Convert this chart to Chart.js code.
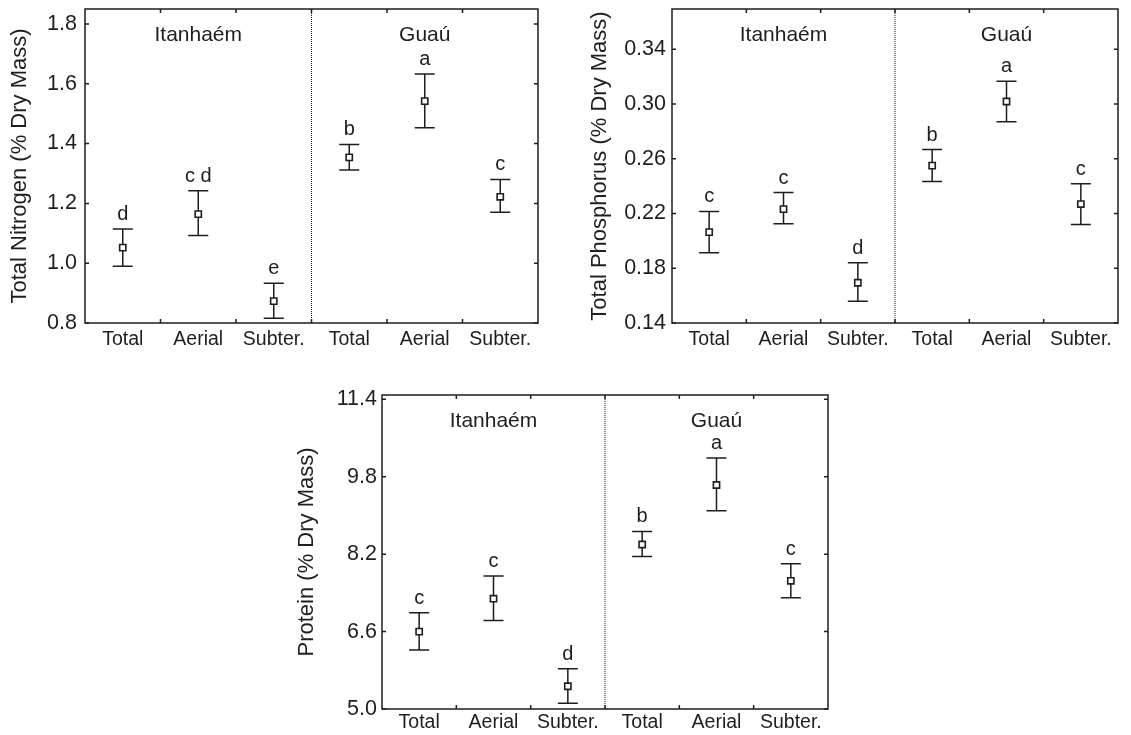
<!DOCTYPE html>
<html>
<head>
<meta charset="utf-8">
<script src="https://cdn.jsdelivr.net/npm/chart.js@4.4.0/dist/chart.umd.min.js"></script>
<style>
  body { margin: 0; background: #fff; width: 1131px; height: 735px; position: relative; overflow: hidden; }
  .box { position: absolute; }
</style>
</head>
<body>
<div class="box" style="left:0;top:0;width:560px;height:360px"><canvas id="cN"></canvas></div>
<div class="box" style="left:580px;top:0;width:551px;height:360px"><canvas id="cP"></canvas></div>
<div class="box" style="left:280px;top:370px;width:570px;height:365px"><canvas id="cProt"></canvas></div>
<script>
const categories = ["Total", "Aerial", "Subter.", "Total", "Aerial", "Subter."];
const groups = ["Itanhaém", "Guaú"];

const nitrogenMean = [1.052, 1.164, 0.873, 1.354, 1.542, 1.222];
const nitrogenLow = [0.990, 1.093, 0.816, 1.312, 1.453, 1.170];
const nitrogenHigh = [1.114, 1.242, 0.933, 1.397, 1.633, 1.280];
const nitrogenLetters = ["d", "c d", "e", "b", "a", "c"];
const nitrogenTicks = [0.8, 1.0, 1.2, 1.4, 1.6, 1.8];

const phosMean = [0.2064, 0.2232, 0.1694, 0.2550, 0.3018, 0.2269];
const phosLow = [0.1913, 0.2125, 0.1558, 0.2434, 0.2870, 0.2120];
const phosHigh = [0.2215, 0.2353, 0.1840, 0.2667, 0.3166, 0.2417];
const phosLetters = ["c", "c", "d", "b", "a", "c"];
const phosTicks = [0.14, 0.18, 0.22, 0.26, 0.30, 0.34];

const protMean = [6.60, 7.28, 5.47, 8.40, 9.63, 7.65];
const protLow = [6.22, 6.83, 5.12, 8.15, 9.10, 7.30];
const protHigh = [6.99, 7.75, 5.83, 8.67, 10.19, 8.00];
const protLetters = ["c", "c", "d", "b", "a", "c"];
const protTicks = [5.0, 6.6, 8.2, 9.8, 11.4];

const ink = "#1e1e1e";
const fontFamily = "'Liberation Sans', Arial, sans-serif";

// error bars, frame, inward ticks, separator, letters and group names
const framePlugin = {
  id: "frame",
  beforeDatasetsDraw(chart) {
    const { ctx, scales: { x, y } } = chart;
    const o = chart.options.plugins.frame;
    ctx.save();
    ctx.strokeStyle = ink;
    ctx.lineWidth = 1.5;
    o.low.forEach((lo, i) => {
      const px = x.getPixelForValue(i);
      const yl = y.getPixelForValue(lo);
      const yh = y.getPixelForValue(o.high[i]);
      ctx.beginPath();
      ctx.moveTo(px, yl); ctx.lineTo(px, yh);
      ctx.moveTo(px - 10, yl); ctx.lineTo(px + 10, yl);
      ctx.moveTo(px - 10, yh); ctx.lineTo(px + 10, yh);
      ctx.stroke();
    });
    ctx.restore();
  },
  afterDraw(chart) {
    const { ctx, chartArea: a, scales: { x, y } } = chart;
    const o = chart.options.plugins.frame;
    ctx.save();
    ctx.strokeStyle = ink;
    ctx.lineWidth = 1.5;
    ctx.strokeRect(a.left, a.top, a.width, a.height);

    ctx.beginPath();
    for (let i = 0; i < categories.length - 1; i++) {
      const bx = x.getPixelForValue(i + 0.5);
      ctx.moveTo(bx, a.top); ctx.lineTo(bx, a.top + 4);
      ctx.moveTo(bx, a.bottom); ctx.lineTo(bx, a.bottom - 4);
    }
    o.ticks.forEach(v => {
      const py = y.getPixelForValue(v);
      ctx.moveTo(a.left, py); ctx.lineTo(a.left + 4, py);
      ctx.moveTo(a.right, py); ctx.lineTo(a.right - 4, py);
    });
    ctx.stroke();

    // dotted divider between sites
    const sx = x.getPixelForValue(2.5);
    ctx.lineWidth = 1;
    ctx.setLineDash([1, 1]);
    ctx.beginPath();
    ctx.moveTo(sx, a.top); ctx.lineTo(sx, a.bottom);
    ctx.stroke();
    ctx.setLineDash([]);

    ctx.fillStyle = ink;
    ctx.textAlign = "center";
    ctx.textBaseline = "alphabetic";
    ctx.font = "20px " + fontFamily;
    o.letters.forEach((t, i) => {
      ctx.fillText(t, x.getPixelForValue(i), y.getPixelForValue(o.high[i]) - 9);
    });
    ctx.font = "21px " + fontFamily;
    ctx.fillText(groups[0], x.getPixelForValue(1), a.top + 32);
    ctx.fillText(groups[1], x.getPixelForValue(4), a.top + 32);
    ctx.restore();
  }
};

function makeChart(id, c) {
  return new Chart(document.getElementById(id), {
    type: "line",
    data: {
      labels: categories,
      datasets: [{
        data: c.mean,
        showLine: false,
        pointStyle: "rect",
        pointRadius: 4.4,
        pointBorderWidth: 1.6,
        pointBackgroundColor: "#fff",
        pointBorderColor: ink
      }]
    },
    options: {
      responsive: true,
      maintainAspectRatio: false,
      animation: false,
      layout: { padding: c.pad },
      plugins: {
        legend: { display: false },
        tooltip: { enabled: false },
        frame: { low: c.low, high: c.high, letters: c.letters, ticks: c.ticks }
      },
      scales: {
        x: {
          offset: true,
          grid: { display: false, drawTicks: false },
          border: { display: false },
          ticks: { color: ink, font: { family: fontFamily, size: 19.5 }, padding: c.xPad, maxRotation: 0, autoSkip: false },
          afterFit: s => { s.height = c.xHeight; s.paddingLeft = 0; s.paddingRight = 0; }
        },
        y: {
          min: c.min,
          max: c.max,
          grid: { display: false, drawTicks: false },
          border: { display: false },
          afterBuildTicks: s => { s.ticks = c.ticks.map(v => ({ value: v })); },
          ticks: { color: ink, font: { family: fontFamily, size: 21.5 }, padding: c.yPad, callback: v => v.toFixed(c.dec) },
          title: { display: true, text: c.title, color: ink, font: { family: fontFamily, size: 22 }, padding: { top: c.titlePad, bottom: 0 } },
          afterFit: s => { s.width = c.yWidth; s.paddingTop = 0; s.paddingBottom = 0; }
        }
      }
    },
    plugins: [framePlugin]
  });
}

makeChart("cN", {
  mean: nitrogenMean, low: nitrogenLow, high: nitrogenHigh, letters: nitrogenLetters, ticks: nitrogenTicks,
  min: 0.8, max: 1.85, dec: 1, title: "Total Nitrogen (% Dry Mass)",
  pad: { top: 9, right: 22, left: 0, bottom: 0 }, yWidth: 85, xHeight: 37, xPad: 5.3, yPad: 8, titlePad: 6.8
});

makeChart("cP", {
  mean: phosMean, low: phosLow, high: phosHigh, letters: phosLetters, ticks: phosTicks,
  min: 0.14, max: 0.3694, dec: 2, title: "Total Phosphorus (% Dry Mass)",
  pad: { top: 9, right: 13, left: 0, bottom: 0 }, yWidth: 92, xHeight: 37, xPad: 5.3, yPad: 6, titlePad: 6.8
});

makeChart("cProt", {
  mean: protMean, low: protLow, high: protHigh, letters: protLetters, ticks: protTicks,
  min: 5.0, max: 11.49, dec: 1, title: "Protein (% Dry Mass)",
  pad: { top: 25, right: 22, left: 0, bottom: 0 }, yWidth: 102, xHeight: 26, xPad: 2.3, yPad: 5, titlePad: 13.5
});
</script>
</body>
</html>
